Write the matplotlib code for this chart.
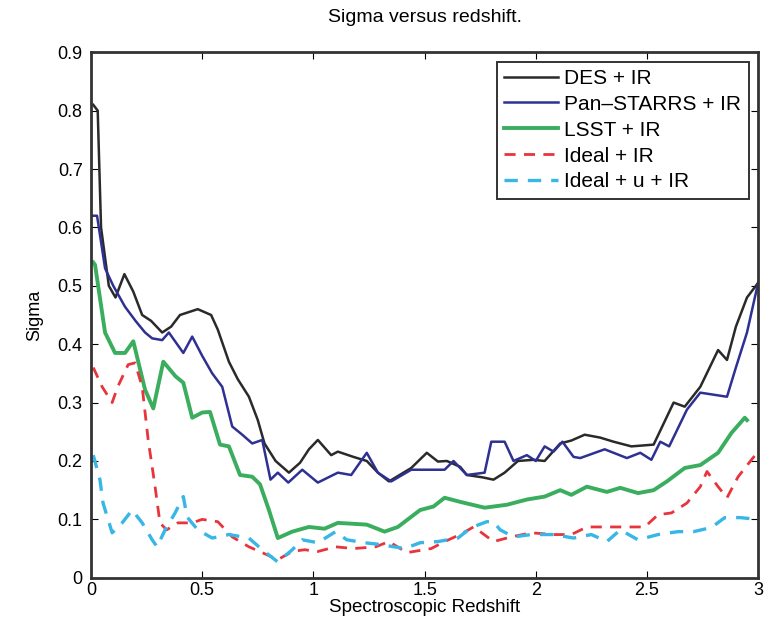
import numpy as np
import matplotlib
matplotlib.use('Agg')
import matplotlib.pyplot as plt

plt.rcParams['font.family'] = ['Liberation Sans', 'DejaVu Sans']

# Datos: redshift espectroscopico y sigma para cada combinacion
z_des = [0.01, 0.03, 0.045, 0.08, 0.11, 0.15, 0.19, 0.23, 0.27, 0.32, 0.36, 0.40, 0.48, 0.54,
         0.57, 0.62, 0.66, 0.71, 0.75, 0.78, 0.83, 0.89, 0.94, 0.98, 1.02, 1.08, 1.11, 1.18,
         1.24, 1.29, 1.34, 1.44, 1.51, 1.56, 1.60, 1.66, 1.69, 1.76, 1.81, 1.86, 1.92, 1.99,
         2.04, 2.11, 2.16, 2.22, 2.29, 2.35, 2.43, 2.53, 2.57, 2.62, 2.67, 2.74, 2.82, 2.86,
         2.90, 2.95, 3.0]
s_des = [0.81, 0.80, 0.60, 0.50, 0.48, 0.52, 0.49, 0.45, 0.44, 0.42, 0.43, 0.45, 0.46, 0.45,
         0.425, 0.37, 0.34, 0.31, 0.27, 0.23, 0.20, 0.18, 0.197, 0.22, 0.236, 0.21, 0.216, 0.207,
         0.20, 0.18, 0.165, 0.188, 0.214, 0.199, 0.20, 0.19, 0.176, 0.172, 0.168, 0.18, 0.20, 0.202,
         0.20, 0.23, 0.235, 0.245, 0.24, 0.233, 0.225, 0.228, 0.26, 0.30, 0.293, 0.327, 0.39, 0.373,
         0.43, 0.48, 0.505]

z_pan = [0.01, 0.027, 0.063, 0.10, 0.153, 0.20, 0.243, 0.275, 0.32, 0.35, 0.415, 0.455, 0.50,
         0.545, 0.59, 0.635, 0.68, 0.725, 0.77, 0.807, 0.84, 0.887, 0.95, 1.02, 1.11, 1.17, 1.24,
         1.29, 1.35, 1.44, 1.59, 1.63, 1.69, 1.77, 1.80, 1.86, 1.90, 1.96, 2.0, 2.04, 2.08, 2.12,
         2.17, 2.2, 2.31, 2.41, 2.47, 2.52, 2.56, 2.60, 2.68, 2.74, 2.86, 2.90, 2.95, 3.0]
s_pan = [0.62, 0.62, 0.53, 0.50, 0.464, 0.44, 0.42, 0.41, 0.407, 0.42, 0.385, 0.413, 0.38,
         0.35, 0.327, 0.259, 0.245, 0.23, 0.236, 0.168, 0.18, 0.163, 0.185, 0.163, 0.18, 0.176, 0.214,
         0.18, 0.165, 0.185, 0.185, 0.20, 0.176, 0.18, 0.233, 0.233, 0.20, 0.21, 0.20, 0.225, 0.216, 0.233,
         0.207, 0.205, 0.22, 0.205, 0.214, 0.202, 0.233, 0.225, 0.288, 0.317, 0.31, 0.36, 0.42, 0.505]

z_lsst = [0.01, 0.018, 0.063, 0.108, 0.153, 0.19, 0.243, 0.28, 0.325, 0.38, 0.415, 0.455, 0.50,
          0.535, 0.58, 0.62, 0.67, 0.725, 0.76, 0.80, 0.84, 0.905, 0.98, 1.05, 1.11, 1.24, 1.32,
          1.38, 1.48, 1.54, 1.59, 1.66, 1.77, 1.87, 1.96, 2.04, 2.11, 2.16, 2.23, 2.32, 2.38, 2.46,
          2.53, 2.59, 2.67, 2.74, 2.82, 2.88, 2.94, 2.95]
s_lsst = [0.54, 0.536, 0.42, 0.385, 0.385, 0.405, 0.322, 0.29, 0.37, 0.345, 0.334, 0.274, 0.283,
          0.284, 0.228, 0.225, 0.176, 0.173, 0.16, 0.116, 0.068, 0.079, 0.087, 0.084, 0.094, 0.091, 0.079,
          0.087, 0.116, 0.122, 0.137, 0.13, 0.12, 0.125, 0.134, 0.139, 0.15, 0.142, 0.156, 0.147, 0.154, 0.145,
          0.15, 0.165, 0.188, 0.193, 0.214, 0.248, 0.274, 0.27]

z_ideal = [0.01, 0.05, 0.095, 0.12, 0.167, 0.198, 0.23, 0.257, 0.288, 0.31, 0.34, 0.39, 0.455,
           0.50, 0.57, 0.635, 0.71, 0.77, 0.84, 0.905, 0.96, 1.02, 1.10, 1.18, 1.28, 1.34, 1.42,
           1.53, 1.59, 1.66, 1.72, 1.75, 1.81, 1.89, 1.98, 2.08, 2.16, 2.23, 2.31, 2.40, 2.49, 2.55,
           2.61, 2.68, 2.74, 2.77, 2.82, 2.86, 2.91, 2.97, 3.0]
s_ideal = [0.36, 0.327, 0.30, 0.327, 0.365, 0.368, 0.327, 0.236, 0.156, 0.094, 0.082, 0.094, 0.094,
           0.10, 0.096, 0.07, 0.053, 0.043, 0.031, 0.045, 0.048, 0.045, 0.053, 0.05, 0.053, 0.062, 0.043,
           0.05, 0.062, 0.074, 0.087, 0.079, 0.062, 0.07, 0.077, 0.074, 0.074, 0.087, 0.087, 0.087, 0.087, 0.108,
           0.111, 0.128, 0.156, 0.182, 0.156, 0.137, 0.173, 0.202, 0.216]

z_idealu = [0.01, 0.04, 0.054, 0.095, 0.14, 0.185, 0.23, 0.275, 0.297, 0.333, 0.378, 0.415, 0.432,
            0.48, 0.545, 0.62, 0.71, 0.77, 0.84, 0.905, 0.95, 1.02, 1.10, 1.15, 1.23, 1.30, 1.41,
            1.48, 1.56, 1.65, 1.71, 1.78, 1.81, 1.84, 1.90, 1.98, 2.08, 2.17, 2.25, 2.32, 2.38, 2.46,
            2.55, 2.64, 2.71, 2.79, 2.85, 2.92, 2.97]
s_idealu = [0.21, 0.168, 0.128, 0.077, 0.094, 0.116, 0.094, 0.065, 0.053, 0.082, 0.111, 0.139, 0.104,
            0.082, 0.068, 0.074, 0.068, 0.048, 0.027, 0.048, 0.065, 0.06, 0.079, 0.065, 0.06, 0.057, 0.05,
            0.06, 0.062, 0.068, 0.086, 0.096, 0.096, 0.082, 0.07, 0.074, 0.074, 0.068, 0.074, 0.062, 0.082, 0.065,
            0.074, 0.079, 0.079, 0.086, 0.103, 0.103, 0.101]

fig = plt.figure(figsize=(7.65, 6.37), dpi=100)
ax = fig.add_axes([0.119, 0.093, 0.872, 0.825])

ax.plot(z_des, s_des, color='#2a2a2a', lw=1.8, label='DES + IR')
ax.plot(z_pan, s_pan, color='#2e3192', lw=1.8, label='Pan\u2013STARRS + IR')
ax.plot(z_lsst, s_lsst, color='#3aae5e', lw=2.8, label='LSST + IR')
ax.plot(z_ideal, s_ideal, color='#e8343c', lw=2.0, ls=(0, (4, 3)), label='Ideal + IR')
ax.plot(z_idealu, s_idealu, color='#38b6e6', lw=2.4, ls=(0, (4, 3)), label='Ideal + u + IR')

ax.set_xlim(0, 3)
ax.set_ylim(0, 0.9)
ax.set_xticks(np.arange(0, 3.01, 0.5))
ax.set_xticklabels(['0', '0.5', '1', '1.5', '2', '2.5', '3'])
ax.set_yticks(np.arange(0, 0.91, 0.1))
ax.set_yticklabels(['0', '0.1', '0.2', '0.3', '0.4', '0.5', '0.6', '0.7', '0.8', '0.9'])
ax.tick_params(direction='in', top=True, right=True, labelsize=13, length=5)
ax.tick_params(axis='x', pad=3)
ax.tick_params(axis='y', pad=6)
for sp in ax.spines.values():
    sp.set_linewidth(2.0)
    sp.set_color('#333333')

ax.set_title('Sigma versus redshift.', fontsize=14, pad=22)
ax.set_xlabel('Spectroscopic Redshift', fontsize=13.5, labelpad=0)
ax.set_ylabel('Sigma', fontsize=13, labelpad=10)

leg = ax.legend(loc='upper right', fontsize=15, handlelength=2.6, handletextpad=0.3,
                borderaxespad=0.45, borderpad=0.35, fancybox=False, framealpha=1,
                edgecolor='#333333', labelspacing=0.33)
leg.get_frame().set_linewidth(1.4)

plt.savefig('out.png', dpi=100)
